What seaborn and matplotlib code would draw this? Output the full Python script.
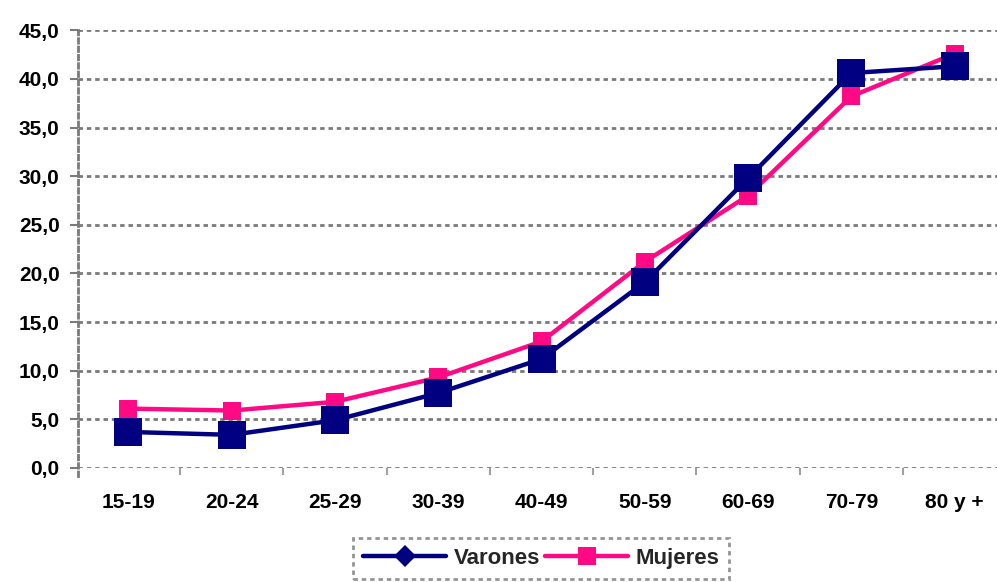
import matplotlib
matplotlib.use("Agg")
import matplotlib.pyplot as plt
from matplotlib.lines import Line2D
from matplotlib.ticker import FuncFormatter, FixedLocator
import seaborn as sns
import pandas as pd

# Age groups and rates by sex
grupos = ["15-19", "20-24", "25-29", "30-39", "40-49", "50-59", "60-69", "70-79", "80 y +"]
varones = [3.7, 3.4, 4.9, 7.7, 11.2, 19.1, 29.8, 40.6, 41.3]
mujeres = [6.1, 5.9, 6.8, 9.3, 13.0, 21.2, 28.0, 38.2, 42.6]
y_ticks = [0, 5, 10, 15, 20, 25, 30, 35, 40, 45]

navy = "#000080"
pink = "#ff0a84"
grid_grey = "#7a7a7a"

sns.set_theme(style="white")
plt.rcParams["font.family"] = ["Liberation Sans", "DejaVu Sans"]

df = pd.DataFrame({"grupo": grupos, "Varones": varones, "Mujeres": mujeres})
df["pos"] = range(len(grupos))

fig = plt.figure(figsize=(9.97, 5.82), dpi=100)
ax = fig.add_axes([0.078, 0.196, 0.922, 0.752])

dots = (0, (1.6, 1.4))
for v in y_ticks:
    ax.axhline(v, color=grid_grey, lw=2.0, ls=dots, zorder=0)

sns.lineplot(data=df, x="pos", y="Mujeres", ax=ax, color=pink, lw=3.2,
             marker="s", markersize=12.5, markeredgewidth=0, zorder=3)
sns.lineplot(data=df, x="pos", y="Varones", ax=ax, color=navy, lw=3.2,
             marker="s", markersize=19.5, markeredgewidth=0, zorder=4)

ax.set_xlim(-0.49, 8.41)
ax.set_ylim(0, 45)
ax.set_xlabel("")
ax.set_ylabel("")

ax.yaxis.set_major_locator(FixedLocator(y_ticks))
ax.yaxis.set_major_formatter(FuncFormatter(lambda v, _: f"{v:.1f}".replace(".", ",")))
ax.set_xticks(range(len(grupos)))
ax.set_xticklabels(grupos)
ax.set_xticks([i + 0.5 for i in range(len(grupos) - 1)], minor=True)

ax.tick_params(axis="y", which="major", length=6, width=1.5, color=grid_grey,
               left=True, labelsize=15, pad=7)
ax.tick_params(axis="x", which="major", length=0, labelsize=15, pad=18)
ax.tick_params(axis="x", which="minor", length=5, width=1.5, color="#a0a0a0", bottom=True)
for lab in ax.get_xticklabels() + ax.get_yticklabels():
    lab.set_fontweight("bold")
    lab.set_color("black")

for side in ["top", "right", "bottom"]:
    ax.spines[side].set_visible(False)
ax.spines["left"].set_color(grid_grey)
ax.spines["left"].set_linewidth(2.0)
ax.spines["left"].set_linestyle(dots)
ax.spines["left"].set_bounds(-0.8, 45)
ax.grid(False)

handles = [
    Line2D([], [], color=navy, lw=3.2, marker="D", markersize=11, markeredgewidth=0),
    Line2D([], [], color=pink, lw=3.2, marker="s", markersize=13, markeredgewidth=0),
]
leg = fig.legend(handles, ["Varones", "Mujeres"], loc="center", ncol=2,
                 bbox_to_anchor=(0.543, 0.041), frameon=True, fancybox=False,
                 handlelength=3.7, handletextpad=0.35, columnspacing=0.25,
                 borderpad=0.45, prop={"weight": "bold", "size": 16})
frame = leg.get_frame()
frame.set_edgecolor(grid_grey)
frame.set_linewidth(2.0)
frame.set_linestyle(dots)

fig.savefig("out.png", dpi=100)
